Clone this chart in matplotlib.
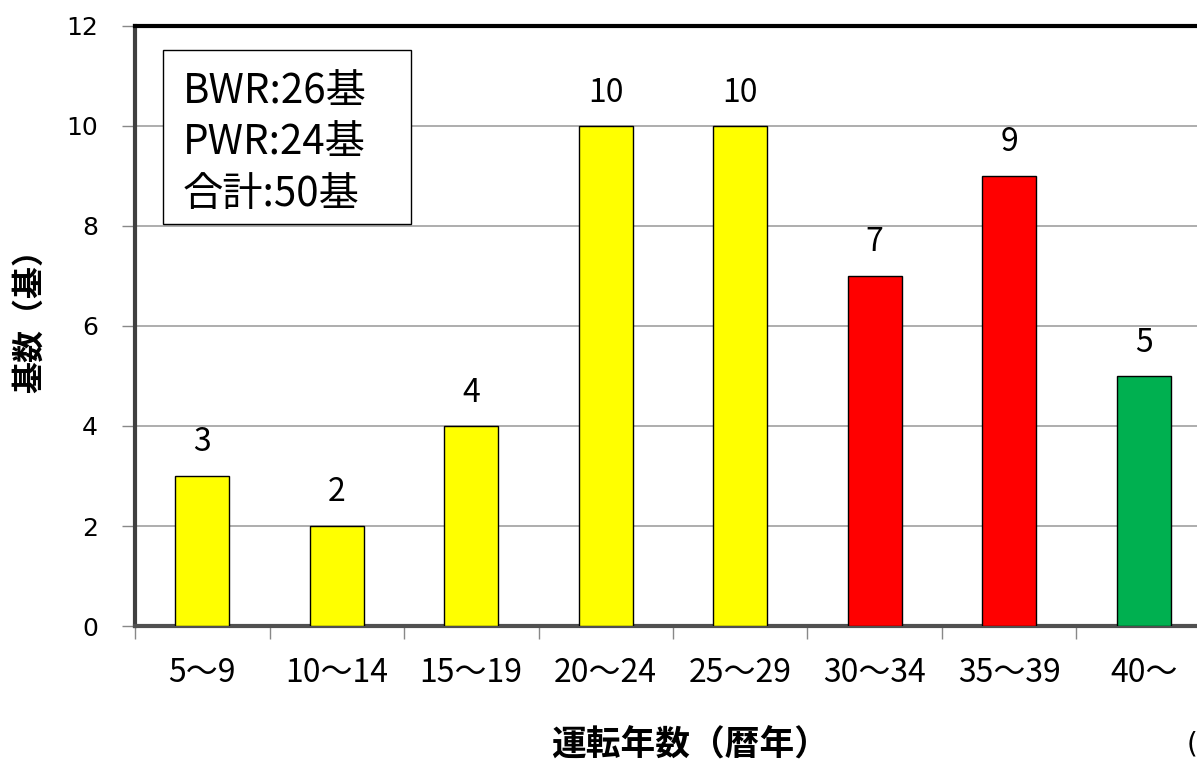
import matplotlib.pyplot as plt
import matplotlib.patches as patches
import numpy as np

plt.rcParams['font.family'] = ['DejaVu Sans', 'Noto Sans CJK JP']
jp = ['Noto Sans CJK JP', 'DejaVu Sans']

categories = ['5～9', '10～14', '15～19', '20～24', '25～29', '30～34', '35～39', '40～']
counts = [3, 2, 4, 10, 10, 7, 9, 5]
bar_colors = ['#FFFF00'] * 5 + ['#FF0000'] * 2 + ['#00B050']
yticks = [0, 2, 4, 6, 8, 10, 12]

fig = plt.figure(figsize=(11.97, 7.62), dpi=100)
# the original picture is cropped on the right, so the axes run past the edge
ax = fig.add_axes([135 / 1197, 1 - 626 / 762, 1076 / 1197, 600 / 762])

x = np.arange(len(categories))
ax.bar(x, counts, width=0.4, color=bar_colors, edgecolor='black', linewidth=1, zorder=3)
for xi, v in zip(x, counts):
    ax.text(xi, v + 0.35, str(v), ha='center', va='bottom', fontsize=23, family=jp)

ax.set_xlim(-0.5, len(categories) - 0.5)
ax.set_ylim(0, 12)
ax.set_yticks(yticks)
ax.tick_params(axis='y', labelsize=18, length=9.5, width=1, color='#888888', pad=17)
ax.yaxis.grid(True, color='#a0a0a0', linewidth=1.2, zorder=0)

ax.set_xticks(x)
ax.set_xticklabels(categories, fontsize=23, family=jp)
ax.tick_params(axis='x', length=0, pad=22)
ax.set_xticks(np.arange(len(categories) + 1) - 0.5, minor=True)
ax.tick_params(axis='x', which='minor', length=9, width=1, color='#888888')

ax.spines['top'].set_linewidth(3)
ax.spines['top'].set_color('black')
ax.spines['left'].set_linewidth(3)
ax.spines['left'].set_color('#404040')
ax.spines['bottom'].set_linewidth(3)
ax.spines['bottom'].set_color('#505050')
ax.spines['right'].set_visible(False)

# summary box
ax.add_patch(patches.Rectangle((0.026, 0.67), 0.2305, 0.29, transform=ax.transAxes,
                               facecolor='white', edgecolor='black', linewidth=1, zorder=5))
ax.text(0.0446, 0.805, 'BWR:26基\nPWR:24基\n合計:50基', transform=ax.transAxes,
        fontsize=29, va='center', ha='left', linespacing=1.33, family=jp, zorder=6)

fig.text(30 / 1197, 1 - 313 / 762, '基数（基）', rotation=90, ha='center', va='center',
         fontsize=23, fontweight='bold', family=jp)
fig.text(690 / 1197, 1 - 745 / 762, '運転年数（暦年）', ha='center', va='center',
         fontsize=25, fontweight='bold', family=jp)
fig.text(1197 / 1197, 1 - 745 / 762, '(', ha='right', va='center', fontsize=20)

fig.savefig('out.png', dpi=100)
